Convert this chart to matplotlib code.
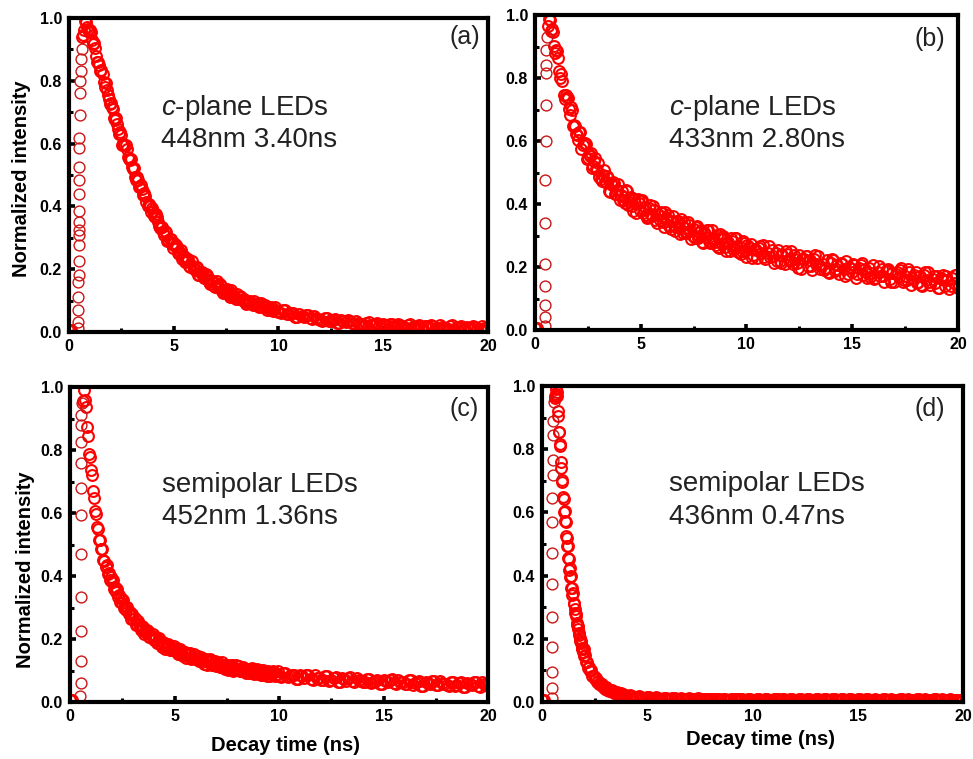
import numpy as np
import matplotlib
matplotlib.use("Agg")
import matplotlib.pyplot as plt
from matplotlib.ticker import MultipleLocator, FormatStrFormatter

plt.rcParams['font.family'] = ['Liberation Sans', 'DejaVu Sans']
plt.rcParams['mathtext.fontset'] = 'custom'
plt.rcParams['mathtext.rm'] = 'Liberation Sans'
plt.rcParams['mathtext.it'] = 'Liberation Sans:italic'


def grid(start, stop, step):
    return np.round(np.arange(start, stop + step / 2, step), 3)


# ---------------- (a) c-plane, 448 nm ----------------
a_base_t = [0.02, 0.06, 0.10]
a_base_y = [0.005, 0.004, 0.006]
a_rise_t = [0.42, 0.43, 0.44, 0.45, 0.45, 0.46, 0.46, 0.47, 0.47, 0.47, 0.48, 0.48,
            0.48, 0.49, 0.49, 0.50, 0.50, 0.51, 0.52, 0.53, 0.55, 0.57, 0.60]
a_rise_y = [0.012, 0.033, 0.07, 0.113, 0.16, 0.18, 0.225, 0.277, 0.31, 0.326, 0.35, 0.385,
            0.438, 0.485, 0.527, 0.586, 0.618, 0.692, 0.762, 0.80, 0.83, 0.87, 0.90]
a_decay_t = np.concatenate([grid(0.6, 8.0, 0.1), grid(8.2, 20.0, 0.2)])
a_decay_y = np.array([
    939, 963, 988, 964, 961, 931, 921, 880, 861, 832,
    823, 780, 772, 742, 730, 711, 674, 663, 629, 626,
    599, 594, 557, 548, 525, 521, 484, 483, 461, 456,
    443, 413, 409, 382, 386, 366, 367, 337, 335, 318,
    321, 291, 297, 281, 282, 276, 252, 254, 233, 243,
    228, 234, 208, 211, 199, 206, 180, 190, 178, 183,
    180, 159, 164, 145, 157, 145, 153, 130, 135, 125,
    134, 111, 123, 113, 120,
    111, 96, 97, 85, 91, 82, 84, 70, 72, 64,
    70, 57, 60, 49, 56, 49, 53, 41, 45, 39,
    45, 34, 38, 30, 37, 31, 35, 26, 30, 24,
    30, 22, 26, 19, 25, 21, 25, 16, 21, 16,
    23, 15, 20, 13, 20, 15, 20, 12, 16, 12,
    19, 11, 16, 10, 16, 12, 17, 9, 13, 9]) / 1000
# interleaved channels
a_decay2_t = np.concatenate([grid(0.65, 9.95, 0.1), grid(10.1, 19.9, 0.2)])
a_decay2_y = np.array([
    945, 992, 972, 955, 956, 917, 906, 861, 850, 835,
    797, 793, 755, 725, 717, 681, 682, 646, 637, 597,
    594, 583, 550, 551, 520, 495, 492, 461, 468, 437,
    434, 400, 401, 395, 368, 375, 349, 330, 333, 308,
    320, 294, 295, 266, 273, 272, 249, 260, 239, 224,
    231, 209, 225, 203, 208, 182, 191, 192, 172, 186,
    167, 154, 163, 143, 161, 140, 147, 123, 134, 137,
    118, 134, 116, 105,
    104, 115, 101, 106, 90, 97, 100, 88, 98, 87,
    79, 92, 79, 85, 70, 77, 80, 68, 78, 67,
    61, 69, 58, 61, 48, 52, 54, 44, 51, 42,
    36, 45, 35, 40, 28, 34, 37, 28, 36, 27,
    22, 32, 23, 28, 17, 23, 27, 18, 26, 19,
    14, 25, 16, 22, 11, 18, 21, 13, 22, 14,
    10, 21, 12, 18, 8, 14, 18, 10, 19, 11]) / 1000

# ---------------- (b) c-plane, 433 nm ----------------
b_base_t = [0.02, 0.06, 0.10]
b_base_y = [0.006, 0.005, 0.006]
b_rise_t = [0.46, 0.47, 0.47, 0.48, 0.48, 0.49, 0.49, 0.50, 0.50, 0.50, 0.52, 0.54, 0.56]
b_rise_y = [0.012, 0.04, 0.08, 0.14, 0.21, 0.34, 0.475, 0.60, 0.715, 0.815, 0.84, 0.89, 0.93]
b_decay_t = grid(0.6, 20.0, 0.1)
b_decay_y = np.array([
    965, 983, 956, 903, 890, 865, 801, 791, 733, 740,
    701, 708, 647, 647, 620, 630, 576, 595, 592, 546,
    554, 515, 538, 511, 529, 480, 491, 471, 488, 440,
    466, 469, 431, 446, 413, 442, 421, 444, 398, 412,
    395, 416, 372, 402, 408, 372, 389, 357, 388, 368,
    393, 348, 364, 348, 370, 327, 357, 364, 329, 346,
    315, 346, 327, 352, 308, 324, 310, 332, 290, 320,
    328, 293, 311, 280, 312, 294, 319, 276, 292, 278,
    301, 259, 289, 297, 263, 281, 251, 283, 265, 291,
    248, 265, 251, 275, 233, 264, 273, 239, 258, 228,
    260, 243, 269, 227, 244, 231, 254, 213, 244, 253,
    220, 238, 209, 241, 224, 251, 208, 226, 213, 237,
    195, 227, 236, 202, 221, 192, 225, 208, 235, 193,
    210, 197, 221, 180, 212, 221, 188, 207, 178, 211,
    193, 220, 178, 196, 183, 207, 166, 198, 207, 174,
    193, 164, 197, 180, 207, 165, 183, 170, 194, 154,
    186, 195, 162, 181, 152, 185, 168, 196, 154, 172,
    159, 183, 142, 175, 184, 151, 170, 141, 175, 158,
    185, 143, 161, 149, 173, 132, 164, 174, 141, 160,
    131, 165, 148, 175, 134]) / 1000
b_decay2_t = np.concatenate([grid(0.65, 9.95, 0.1), grid(10.05, 19.85, 0.2)])
b_decay2_y = np.array([
    988, 950, 945, 878, 886, 823, 814, 746, 747, 736,
    683, 699, 652, 622, 603, 630, 586, 595, 543, 559,
    562, 520, 546, 507, 485, 473, 507, 469, 483, 438,
    460, 467, 431, 463, 430, 412, 403, 440, 405, 422,
    379, 404, 415, 380, 413, 382, 365, 358, 396, 363,
    381, 340, 365, 376, 342, 376, 345, 329, 322, 361,
    328, 347, 306, 332, 343, 309, 344, 313, 298, 291,
    331, 298, 318, 277, 304, 316, 282, 317, 286, 271,
    265, 305, 272, 292, 252, 279, 291, 258, 293, 263,
    248, 242, 283, 251,
    270, 229, 255, 266, 232, 266, 235, 219, 212, 251,
    219, 238, 198, 224, 235, 202, 237, 207, 191, 185,
    225, 193, 213, 172, 199, 211, 178, 213, 183, 168,
    162, 202, 171, 191, 151, 178, 191, 158, 193, 164,
    149, 143, 184, 152, 173, 133, 161, 173, 141, 176]) / 1000

# ---------------- (c) semipolar, 452 nm ----------------
c_base_t = [0.02, 0.06, 0.10]
c_base_y = [0.005, 0.006, 0.005]
c_rise_t = [0.50, 0.51, 0.51, 0.51, 0.52, 0.52, 0.52, 0.52, 0.51, 0.52, 0.53, 0.55, 0.58]
c_rise_y = [0.02, 0.06, 0.13, 0.225, 0.333, 0.47, 0.595, 0.68, 0.76, 0.825, 0.88, 0.91, 0.95]
c_decay_t = np.concatenate([grid(0.6, 3.0, 0.05), grid(3.1, 10.0, 0.1), grid(10.2, 20.0, 0.2)])
c_decay_y = np.array([
    955, 990, 958, 935, 872, 844, 788, 777, 737, 722,
    671, 647, 606, 597, 557, 549, 513, 514, 487, 487,
    451, 449, 429, 435, 407, 410, 386, 397, 380, 388,
    360, 364, 349, 359, 334, 340, 318, 331, 315, 325,
    298, 304, 291, 302, 279, 286, 265, 279, 264,
    268, 245, 248, 228, 237, 223, 229, 205, 208, 197,
    207, 187, 193, 176, 188, 176, 185, 164, 170, 161,
    172, 153, 160, 145, 158, 148, 157, 137, 144, 135,
    147, 129, 137, 122, 136, 126, 136, 116, 123, 115,
    127, 110, 119, 105, 119, 109, 119, 100, 108, 101,
    113, 98, 105, 92, 105, 97, 107, 90, 97, 90,
    102, 87, 96, 84, 96, 88, 97, 82, 89, 83,
    92, 78, 85, 73, 85, 77, 86, 71, 77, 71,
    81, 67, 75, 64, 76, 68, 78, 63, 69, 64,
    74, 61, 68, 57, 70, 62, 72, 57, 64, 58,
    69, 55, 63, 52, 65, 58, 67, 53, 59, 54,
    65, 51, 59, 49, 61, 54, 64, 49, 56, 51]) / 1000
c_decay2_t = np.concatenate([grid(3.15, 9.95, 0.1), grid(10.1, 19.9, 0.2)])
c_decay2_y = np.array([
    246, 258, 238, 240, 217, 224, 224, 205, 216, 199,
    187, 202, 185, 190, 169, 179, 182, 166, 179, 164,
    153, 169, 153, 160, 140, 151, 154, 139, 153, 138,
    129, 144, 130, 136, 119, 129, 132, 118, 131, 119,
    110, 126, 112, 119, 102, 113, 116, 103, 117, 105,
    98, 111, 99, 106, 91, 101, 105, 93, 105, 94,
    87, 101, 90, 97, 82, 92, 96, 85, 97,
    80, 92, 82, 87, 73, 81, 85, 74, 85, 75,
    69, 81, 71, 78, 64, 72, 76, 66, 77, 67,
    62, 74, 65, 71, 57, 66, 70, 60, 71, 62,
    56, 69, 59, 66, 52, 61, 66, 55, 67, 57,
    52, 65, 55, 62, 49, 57, 62, 52, 63, 54]) / 1000

# ---------------- (d) semipolar, 436 nm ----------------
d_base_t = [0.02, 0.06, 0.10]
d_base_y = [0.006, 0.005, 0.006]
d_rise_t = [0.47, 0.48, 0.48, 0.49, 0.49, 0.50, 0.50, 0.50, 0.50, 0.51, 0.51, 0.52, 0.54, 0.56]
d_rise_y = [0.012, 0.045, 0.095, 0.175, 0.27, 0.373, 0.473, 0.571, 0.647, 0.717, 0.765,
            0.845, 0.89, 0.95]
d_decay_t = np.concatenate([grid(0.6, 2.0, 0.025), grid(2.05, 4.0, 0.05), grid(4.2, 20.0, 0.2)])
d_decay_y = np.array([
    962, 970, 990, 976, 980, 967, 920, 905, 855, 853,
    817, 809, 759, 742, 703, 697, 650, 642, 600, 603,
    572, 569, 524, 519, 493, 494, 455, 453, 417, 424,
    397, 400, 361, 360, 338, 344, 310, 313, 282, 294,
    272, 279, 245, 249, 231, 239, 213, 217, 193, 203,
    188, 194, 168, 172, 158, 167, 144,
    149, 126, 126, 107, 112, 98, 102, 82, 83, 73,
    77, 64, 66, 56, 61, 54, 57, 46, 48, 42,
    47, 38, 41, 34, 39, 34, 37, 29, 32, 27,
    32, 24, 28, 21, 27, 22, 26, 18, 21, 18,
    22, 15, 18, 13, 16, 12, 15, 10, 13, 10,
    13, 9, 12, 8, 12, 9, 12, 8, 10, 8,
    11, 8, 10, 7, 11, 8, 11, 7, 9, 7,
    10, 7, 9, 6, 10, 8, 10, 6, 9, 7,
    10, 6, 9, 6, 10, 7, 10, 6, 8, 7,
    9, 6, 8, 5, 9, 7, 9, 6, 8, 6,
    9, 6, 8, 5, 9, 7, 9, 5, 8, 6,
    9, 5, 8, 5, 9, 6, 9, 5, 7, 6]) / 1000
d_decay2_t = grid(4.3, 19.9, 0.2)
d_decay2_y = np.array([
    18, 15, 17, 13, 15, 12, 14, 11, 13, 10,
    12, 9, 11, 8, 11, 9, 11, 8, 10, 8,
    10, 7, 10, 7, 10, 8, 10, 7, 9, 7,
    9, 6, 9, 7, 9, 6, 9, 7, 8, 6,
    9, 6, 8, 6, 9, 6, 8, 5, 8, 6,
    8, 5, 8, 6, 8, 5, 8, 6, 7, 5,
    8, 5, 7, 6, 8, 5, 7, 5, 8, 6,
    7, 5, 8, 5, 7, 6, 7, 5, 7]) / 1000

panel_letters = ['(a)', '(b)', '(c)', '(d)']
line1 = [r'$\mathit{c}$-plane LEDs', r'$\mathit{c}$-plane LEDs',
         'semipolar LEDs', 'semipolar LEDs']
line2 = ['448nm 3.40ns', '433nm 2.80ns', '452nm 1.36ns', '436nm 0.47ns']

series = [
    (a_base_t, a_base_y, a_rise_t, a_rise_y, a_decay_t, a_decay_y, a_decay2_t, a_decay2_y),
    (b_base_t, b_base_y, b_rise_t, b_rise_y, b_decay_t, b_decay_y, b_decay2_t, b_decay2_y),
    (c_base_t, c_base_y, c_rise_t, c_rise_y, c_decay_t, c_decay_y, c_decay2_t, c_decay2_y),
    (d_base_t, d_base_y, d_rise_t, d_rise_y, d_decay_t, d_decay_y, d_decay2_t, d_decay2_y),
]

# axes rectangles [left, bottom, width, height] in figure fraction
rects = [
    [0.0709, 0.5626, 0.4306, 0.4137],
    [0.5498, 0.5652, 0.4347, 0.4150],
    [0.0719, 0.0751, 0.4300, 0.4150],
    [0.5570, 0.0751, 0.4327, 0.4163],
]
text_x = [0.22, 0.317, 0.22, 0.302]
text_y1 = [0.691, 0.683, 0.667, 0.668]
text_y2 = [0.589, 0.581, 0.565, 0.563]
letter_xy = [(0.981, 0.94), (0.969, 0.924), (0.976, 0.93), (0.957, 0.927)]
ylabel_xy = [(-0.09, 0.487), None, (-0.084, 0.42), None]
xlabel_xy = [None, None, (0.515, -0.108), (0.518, -0.088)]

fig = plt.figure(figsize=(9.73, 7.59), dpi=100)
fig.patch.set_facecolor('white')

decay_style = dict(linestyle='none', marker='o', markersize=7.8,
                   markerfacecolor='none', markeredgecolor='#ff0000',
                   markeredgewidth=1.5)
rise_style = dict(linestyle='none', marker='o', markersize=7.8,
                  markerfacecolor='none', markeredgecolor='#cc1515',
                  markeredgewidth=1.0)

for i, rect in enumerate(rects):
    ax = fig.add_axes(rect)
    base_t, base_y, rise_t, rise_y, dec_t, dec_y, dec2_t, dec2_y = series[i]
    ax.plot(base_t, base_y, **decay_style)
    ax.plot(dec2_t, dec2_y, **decay_style)
    ax.plot(dec_t, dec_y, **decay_style)
    ax.plot(rise_t, rise_y, **rise_style)

    ax.set_xlim(0, 20)
    ax.set_ylim(0, 1.0)
    ax.xaxis.set_major_locator(MultipleLocator(5))
    ax.xaxis.set_minor_locator(MultipleLocator(2.5))
    ax.yaxis.set_major_locator(MultipleLocator(0.2))
    ax.yaxis.set_minor_locator(MultipleLocator(0.1))
    ax.yaxis.set_major_formatter(FormatStrFormatter('%.1f'))
    for s in ax.spines.values():
        s.set_linewidth(3.0)
    ax.tick_params(which='major', direction='in', length=4, width=2.6,
                   labelsize=11.5, pad=5)
    ax.tick_params(which='minor', direction='in', length=3, width=2.2)
    for lab in ax.get_xticklabels() + ax.get_yticklabels():
        lab.set_fontweight('bold')

    ax.text(text_x[i], text_y1[i], line1[i], transform=ax.transAxes,
            fontsize=20, va='baseline', ha='left', color='#222222')
    ax.text(text_x[i], text_y2[i], line2[i], transform=ax.transAxes,
            fontsize=20, va='baseline', ha='left', color='#222222')
    ax.text(letter_xy[i][0], letter_xy[i][1], panel_letters[i], transform=ax.transAxes,
            fontsize=18, va='center', ha='right', color='#222222')

    if ylabel_xy[i] is not None:
        ax.set_ylabel('Normalized intensity', fontsize=14.5, fontweight='bold')
        ax.yaxis.set_label_coords(*ylabel_xy[i])
    if xlabel_xy[i] is not None:
        ax.set_xlabel('Decay time (ns)', fontsize=14.5, fontweight='bold')
        ax.xaxis.set_label_coords(*xlabel_xy[i])

fig.savefig('out.png', dpi=100, facecolor='white')
